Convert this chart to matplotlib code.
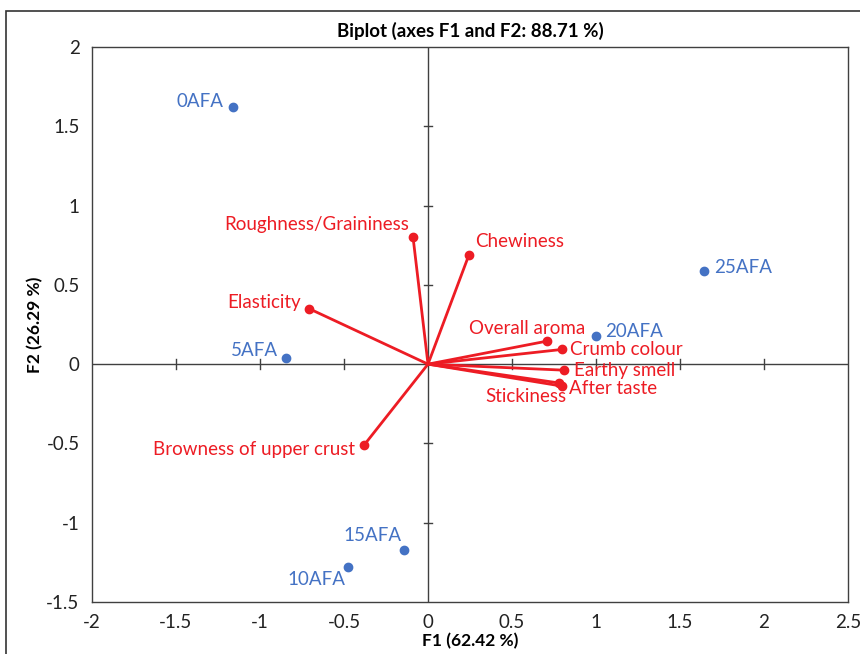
import matplotlib.pyplot as plt
from matplotlib.patches import Rectangle

plt.rcParams['font.family'] = ['Lato', 'DejaVu Sans']

# observations (F1, F2)
obs_names = ["0AFA", "5AFA", "10AFA", "15AFA", "20AFA", "25AFA"]
obs_f1 = [-1.16, -0.845, -0.476, -0.143, 1.0, 1.64]
obs_f2 = [1.62, 0.04, -1.28, -1.17, 0.18, 0.59]

# variables (F1, F2)
var_names = ["Roughness/Graininess", "Chewiness", "Elasticity", "Overall aroma",
             "Crumb colour", "Earthy smell", "Stickiness", "After taste",
             "Browness of upper crust"]
var_f1 = [-0.089, 0.244, -0.708, 0.707, 0.80, 0.81, 0.782, 0.80, -0.38]
var_f2 = [0.80, 0.69, 0.35, 0.145, 0.093, -0.038, -0.119, -0.139, -0.51]

# label offsets in pixels (dx, dy, ha)
obs_offsets = [(-10, 6, "right"), (-8, 7, "right"), (-3, -12, "right"),
               (-2, 14, "right"), (9, 4, "left"), (11, 3, "left")]
var_offsets = [(-4, 13, "right"), (6, 13, "left"), (-8, 6, "right"),
               (-20, 13, "center"), (8, 0, "left"), (10, 0, "left"),
               (-33, -13, "center"), (7, -2, "left"), (-9, -4, "right")]

blue = "#4472C4"
red = "#ED1C24"
dark = "#404040"

fig = plt.figure(figsize=(8.6, 6.54), dpi=100)
fig.patches.append(Rectangle((6 / 860, -0.1), 2, 1.1 - 11 / 654, transform=fig.transFigure,
                             fill=False, edgecolor="#333333", linewidth=1.2))
ax = fig.add_axes([92 / 860, 1 - 602 / 654, (848 - 92) / 860, (602 - 47) / 654])

ax.set_xlim(-2, 2.5)
ax.set_ylim(-1.5, 2)
ax.set_xticks([-2, -1.5, -1, -0.5, 0, 0.5, 1, 1.5, 2, 2.5])
ax.set_yticks([-1.5, -1, -0.5, 0, 0.5, 1, 1.5, 2])
ax.set_xticklabels(["-2", "-1.5", "-1", "-0.5", "0", "0.5", "1", "1.5", "2", "2.5"])
ax.set_yticklabels(["-1.5", "-1", "-0.5", "0", "0.5", "1", "1.5", "2"])
ax.tick_params(length=0, labelsize=13.5, colors="#222222", pad=9)

for s in ax.spines.values():
    s.set_color(dark)
    s.set_linewidth(1)

# zero lines with cross ticks
ax.axhline(0, color=dark, lw=1, zorder=1)
ax.axvline(0, color=dark, lw=1, zorder=1)
for xt in [-1.5, -1, -0.5, 0.5, 1, 1.5, 2]:
    ax.plot([xt, xt], [-0.03, 0.03], color=dark, lw=1, zorder=1)
for yt in [-1, -0.5, 0.5, 1, 1.5]:
    ax.plot([-0.025, 0.025], [yt, yt], color=dark, lw=1, zorder=1)

for x, y in zip(var_f1, var_f2):
    ax.plot([0, x], [0, y], color=red, lw=2, zorder=2)
ax.scatter(var_f1, var_f2, s=36, color=red, zorder=3)
ax.scatter(obs_f1, obs_f2, s=36, color=blue, zorder=3)

for name, x, y, (dx, dy, ha) in zip(obs_names, obs_f1, obs_f2, obs_offsets):
    ax.annotate(name, (x, y), xytext=(dx * 0.72, dy * 0.72), textcoords="offset points",
                ha=ha, va="center", color=blue, fontsize=13.5)
for name, x, y, (dx, dy, ha) in zip(var_names, var_f1, var_f2, var_offsets):
    ax.annotate(name, (x, y), xytext=(dx * 0.72, dy * 0.72), textcoords="offset points",
                ha=ha, va="center", color=red, fontsize=13.5)

ax.set_title("Biplot (axes F1 and F2: 88.71 %)", fontsize=13.5, fontweight="bold", pad=7)
ax.set_xlabel("F1 (62.42 %)", fontsize=12.5, fontweight="bold", labelpad=1)
ax.set_ylabel("F2 (26.29 %)", fontsize=12.5, fontweight="bold", labelpad=2)

fig.savefig("out.png", dpi=100)
